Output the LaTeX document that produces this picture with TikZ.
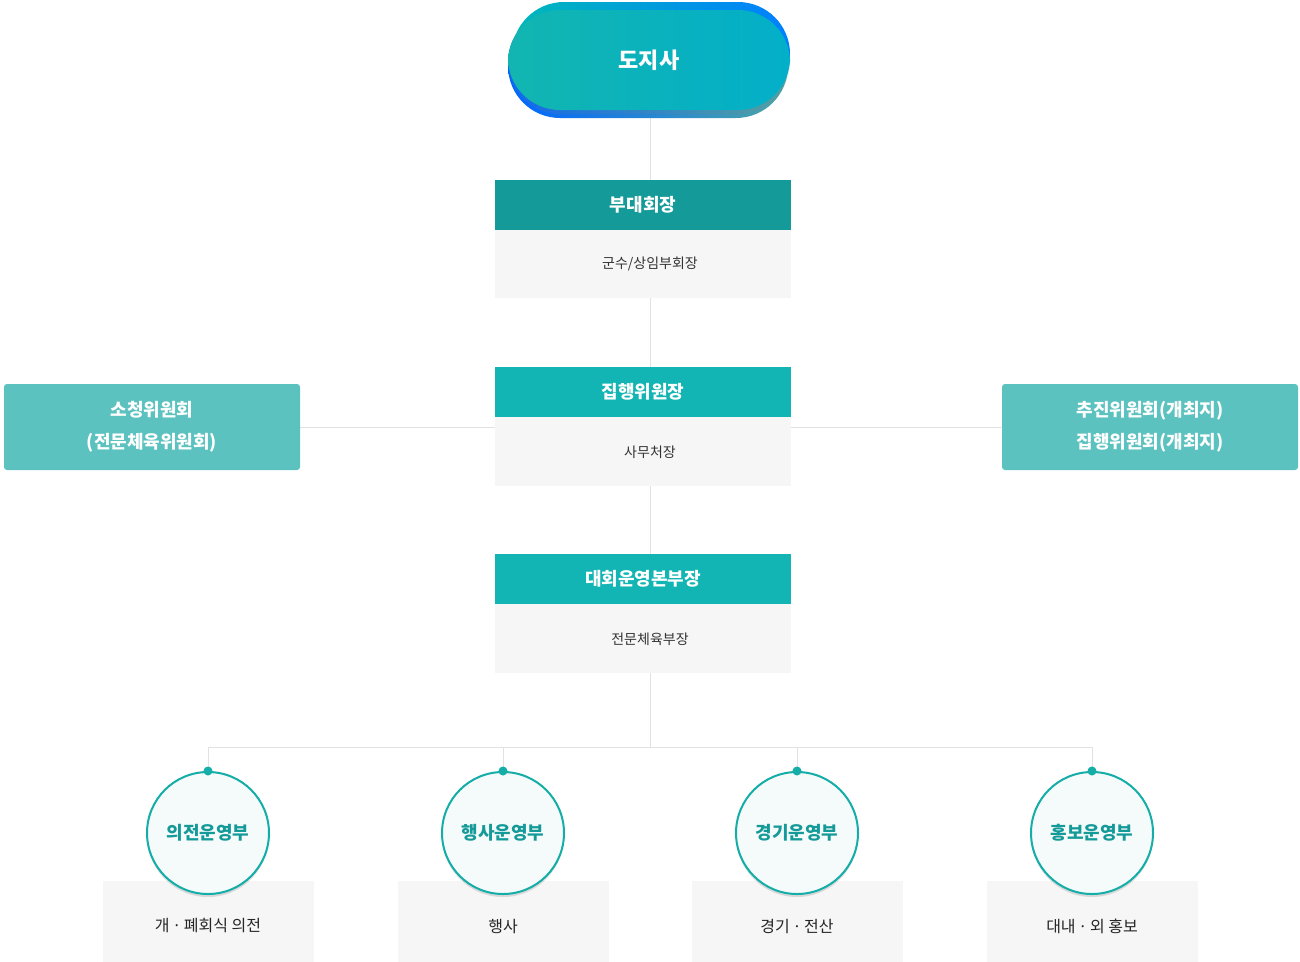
\documentclass[tikz,border=0pt]{standalone}
\usepackage{fontspec}
\setmainfont{Noto Sans CJK KR}
\usetikzlibrary{positioning,shadows}
\definecolor{tealdark}{HTML}{149A98}
\definecolor{tealmid}{HTML}{12B5B4}
\definecolor{teallight}{HTML}{5BC2BF}
\definecolor{bodygray}{HTML}{F6F6F6}
\definecolor{linegray}{HTML}{E2E2E2}
\definecolor{ringteal}{HTML}{15ADA8}
\definecolor{govleft}{HTML}{12B5B0}
\definecolor{govright}{HTML}{03AFC9}
\tikzset{
  head/.style={fill=#1, minimum width=296pt, minimum height=50pt, inner sep=0pt, text=white, font=\fontsize{18}{20}\selectfont\bfseries},
  body/.style={fill=bodygray, minimum width=296pt, minimum height=68pt, inner sep=0pt, text=black!80, font=\fontsize{14}{16}\selectfont},
  side/.style={fill=teallight, rounded corners=3pt, minimum width=296pt, minimum height=86pt, inner sep=0pt, text=white, align=center, font=\fontsize{18}{32}\selectfont\bfseries},
  dept/.style={circle, draw=ringteal, line width=2pt, fill=white!96!teal, minimum size=122pt, inner sep=0pt, text=tealdark, font=\fontsize{18}{20}\selectfont\bfseries, drop shadow={shadow xshift=0pt, shadow yshift=-3pt, opacity=0.25}},
  task/.style={fill=bodygray, minimum width=211pt, minimum height=90pt, inner sep=0pt, text=black!85, font=\fontsize{16}{18}\selectfont},
  conn/.style={draw=linegray, line width=1pt},
}
\begin{document}
\begin{tikzpicture}[x=1pt, y=-1pt]
    \useasboundingbox (0,0) rectangle (1300,961);

    % connectors
    \coordinate (top) at (650,118);
    \coordinate (fork) at (650,747);
    \draw[conn] (top) -- (fork);
    \draw[conn] (300,427) -- (1002,427);
    \draw[conn] (208,771) |- (fork) -| (1092,771);
    \draw[conn] (503,771) -- (503,747);
    \draw[conn] (797,771) -- (797,747);

    % governor
    \shade[left color=blue!60!cyan, right color=teal!70, rounded corners=52pt] (508,10) rectangle (788,118);
    \shade[left color=cyan!45!teal, right color=blue!50!cyan, rounded corners=52pt] (512,2) rectangle (790,108);
    \node[rounded corners=52pt, minimum width=282pt, minimum height=100pt, left color=govleft, right color=govright, drop shadow={shadow xshift=0pt, shadow yshift=-4pt, opacity=0.15},
          text=white, font=\fontsize{22}{24}\selectfont\bfseries] (gov) at (649,60) {도지사};

    % vice chair
    \node[head=tealdark] (vice) at (643,205) {부대회장};
    \node[body, below=0pt of vice] (viceb) {\hspace{14pt}군수/상임부회장};
    % executive chair
    \node[head=tealmid] (exec) at (643,392) {집행위원장};
    \node[body, below=0pt of exec, minimum height=69pt] (execb) {\hspace{14pt}사무처장};
    % operations head
    \node[head=tealmid] (oper) at (643,579) {대회운영본부장};
    \node[body, below=0pt of oper, minimum height=69pt] (operb) {\hspace{14pt}전문체육부장};

    % side committees
    \node[side] (leftc) at (152,427) {소청위원회\\(전문체육위원회)};
    \node[side] (rightc) at (1150,427) {추진위원회(개최지)\\집행위원회(개최지)};

    % departments
    \foreach \x/\name/\dname/\job in {208/d1/의전운영부/개\,·\,폐회식 의전, 503/d2/행사운영부/행사, 797/d3/경기운영부/경기\,·\,전산, 1092/d4/홍보운영부/대내\,·\,외 홍보} {
      \node[task] (\name t) at (\x,926) {\job};
      \node[dept] (\name) at (\x,833) {\dname};
      \fill[ringteal] (\name.north) circle (4.5pt);
    }
\end{tikzpicture}
\end{document}
